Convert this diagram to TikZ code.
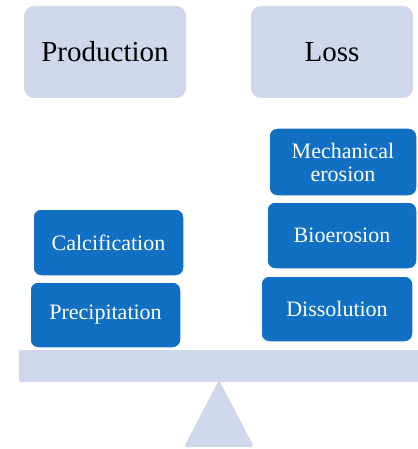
\documentclass[tikz,border=0pt]{standalone}
\usepackage{fontspec}
\setmainfont{Liberation Serif}
\newfontfamily\boxfont{Liberation Serif}
\definecolor{pale}{RGB}{207,216,234}
\definecolor{deep}{RGB}{17,112,196}
\tikzstyle{head} = [rectangle, rounded corners=10pt, fill=pale, text=black, minimum width=162pt, minimum height=92pt, font=\boxfont\fontsize{29}{31}\selectfont]
\tikzstyle{proc} = [rectangle, rounded corners=8pt, fill=deep, draw=white, line width=1.5pt, text=white, align=center, font=\boxfont\fontsize{22}{23}\selectfont]

\begin{document}
\begin{tikzpicture}[x=1pt,y=-1pt]%
	\useasboundingbox (0,0) rectangle (417,449);
	\fill[white] (0,0) rectangle (417,449);
	% scale
	\fill[pale, rounded corners=2pt] (19,350) rectangle (430,382);
	\fill[pale, rounded corners=3pt] (219,380) -- (254,447) -- (184,447) -- cycle;
	% headings
	\node [head] (prod) at (105,52) {Production};
	\node [head] (loss) at (332,52) {Loss};
	% production side
	\node [proc, minimum width=151pt, minimum height=67pt] (calc) at (108.5,242.5) {Calcification};
	\node [proc, minimum width=151pt, minimum height=66pt] (prec) at (105.5,315) {Precipitation};
	% loss side
	\node [proc, minimum width=148pt, minimum height=68pt] (mech) at (343,162) {Mechanical\\erosion};
	\node [proc, minimum width=150pt, minimum height=67pt] (bio) at (342,235.5) {Bioerosion};
	\node [proc, minimum width=152pt, minimum height=66pt] (diss) at (337,309) {Dissolution};
\end{tikzpicture}
\end{document}
